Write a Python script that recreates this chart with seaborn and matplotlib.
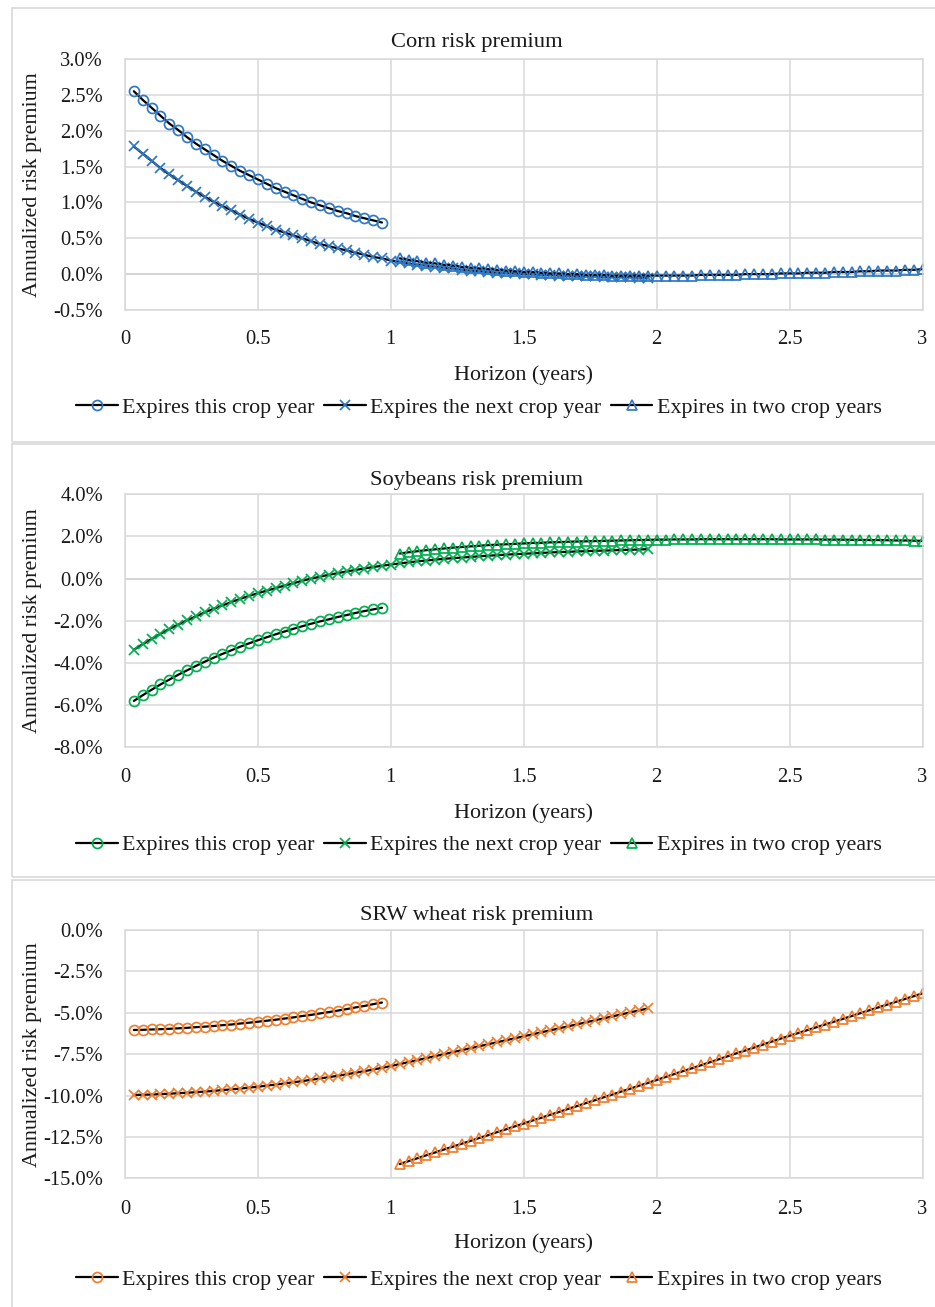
import numpy as np
import pandas as pd
import matplotlib
matplotlib.use("Agg")
import matplotlib.pyplot as plt
import seaborn as sns
from matplotlib.patches import Rectangle

sns.set_theme(style="white")
plt.rcParams['font.family'] = ['Liberation Serif', 'DejaVu Serif']

# ---------------- data ----------------
h_this = np.arange(1, 30) / 30      # horizons (years) of contracts expiring this crop year
h_next = np.arange(1, 60) / 30      # ... next crop year
h_two = np.arange(31, 91) / 30      # ... in two crop years

series_labels = ["Expires this crop year", "Expires the next crop year", "Expires in two crop years"]

corn_this = [2.55, 2.43, 2.32, 2.21, 2.10, 2.01, 1.91, 1.82, 1.74, 1.66, 1.58, 1.51, 1.44, 1.38, 1.32,
             1.26, 1.20, 1.15, 1.10, 1.05, 1.00, 0.96, 0.92, 0.88, 0.85, 0.81, 0.78, 0.75, 0.72]
corn_next = [1.78, 1.68, 1.58, 1.48, 1.39, 1.31, 1.23, 1.15, 1.08, 1.01, 0.95, 0.89, 0.83, 0.77, 0.72,
             0.67, 0.62, 0.58, 0.54, 0.50, 0.46, 0.42, 0.39, 0.36, 0.33, 0.30, 0.27, 0.24, 0.22, 0.19,
             0.17, 0.15, 0.13, 0.12, 0.10, 0.09, 0.08, 0.06, 0.05, 0.04, 0.03, 0.02, 0.02, 0.01, 0.00,
             0.00, -0.01, -0.01, -0.02, -0.02, -0.03, -0.03, -0.03, -0.04, -0.04, -0.04, -0.04, -0.05, -0.05]
corn_two = [0.22, 0.20, 0.18, 0.16, 0.15, 0.13, 0.12, 0.10, 0.09, 0.08, 0.07, 0.06, 0.05, 0.04, 0.03,
            0.03, 0.02, 0.01, 0.01, 0.00, 0.00, -0.01, -0.01, -0.01, -0.02, -0.02, -0.02, -0.02, -0.02, -0.02,
            -0.02, -0.02, -0.02, -0.02, -0.01, -0.01, -0.01, -0.01, -0.01, 0.00, 0.00, 0.00, 0.00, 0.01, 0.01,
            0.01, 0.02, 0.02, 0.02, 0.03, 0.03, 0.03, 0.04, 0.04, 0.05, 0.05, 0.05, 0.06, 0.06, 0.07]

soy_this = [-5.80, -5.53, -5.27, -5.02, -4.79, -4.56, -4.35, -4.14, -3.94, -3.75, -3.57, -3.40, -3.23, -3.07,
            -2.92, -2.78, -2.64, -2.51, -2.38, -2.26, -2.14, -2.03, -1.93, -1.82, -1.73, -1.63, -1.54, -1.46, -1.38]
soy_next = [-3.37, -3.11, -2.86, -2.62, -2.39, -2.18, -1.98, -1.79, -1.60, -1.43, -1.27, -1.11, -0.96, -0.82,
            -0.69, -0.57, -0.45, -0.33, -0.22, -0.10, 0.00, 0.09, 0.18, 0.26, 0.34, 0.41, 0.48, 0.55, 0.61, 0.67,
            0.72, 0.77, 0.82, 0.86, 0.90, 0.94, 0.97, 1.00, 1.03, 1.06, 1.09, 1.11, 1.14, 1.16, 1.18,
            1.20, 1.22, 1.24, 1.26, 1.27, 1.29, 1.30, 1.32, 1.33, 1.34, 1.36, 1.37, 1.38, 1.40]
soy_two = [1.19, 1.25, 1.30, 1.35, 1.39, 1.43, 1.47, 1.50, 1.53, 1.56, 1.59, 1.61, 1.63, 1.65, 1.67,
           1.69, 1.70, 1.72, 1.73, 1.75, 1.76, 1.77, 1.78, 1.79, 1.80, 1.81, 1.82, 1.83, 1.84, 1.85,
           1.85, 1.86, 1.86, 1.86, 1.87, 1.87, 1.87, 1.87, 1.87, 1.87, 1.87, 1.87, 1.87, 1.86, 1.86,
           1.86, 1.86, 1.86, 1.85, 1.85, 1.85, 1.84, 1.84, 1.83, 1.83, 1.82, 1.81, 1.81, 1.80, 1.79]

wheat_this = [-6.04, -6.03, -6.01, -5.99, -5.97, -5.94, -5.91, -5.87, -5.84, -5.80, -5.75, -5.71, -5.65, -5.60,
              -5.54, -5.48, -5.42, -5.35, -5.28, -5.20, -5.13, -5.04, -4.96, -4.87, -4.78, -4.68, -4.59, -4.48, -4.38]
wheat_next = [-9.97, -9.95, -9.94, -9.91, -9.89, -9.86, -9.83, -9.80, -9.76, -9.72, -9.67, -9.63, -9.58, -9.52,
              -9.47, -9.40, -9.34, -9.27, -9.20, -9.13, -9.05, -8.97, -8.89, -8.81, -8.72, -8.62, -8.53, -8.43,
              -8.33, -8.22, -8.10, -7.98, -7.86, -7.74, -7.62, -7.50, -7.38, -7.26, -7.14, -7.02, -6.90, -6.78,
              -6.66, -6.54, -6.42, -6.30, -6.18, -6.06, -5.94, -5.82, -5.70, -5.58, -5.46, -5.34, -5.22, -5.10,
              -4.98, -4.86, -4.74]
wheat_two = [-14.14, -13.96, -13.79, -13.61, -13.44, -13.26, -13.09, -12.91, -12.74, -12.56, -12.39, -12.21,
             -12.04, -11.86, -11.69, -11.51, -11.34, -11.16, -10.99, -10.81, -10.64, -10.46, -10.29, -10.11,
             -9.94, -9.76, -9.59, -9.41, -9.24, -9.06, -8.88, -8.70, -8.52, -8.35, -8.17, -7.99, -7.81, -7.63,
             -7.45, -7.28, -7.10, -6.92, -6.74, -6.56, -6.39, -6.22, -6.05, -5.88, -5.71, -5.54, -5.37, -5.20,
             -5.02, -4.85, -4.68, -4.51, -4.34, -4.17, -4.00, -3.83]

titles = ["Corn risk premium", "Soybeans risk premium", "SRW wheat risk premium"]
corn_yticks = [-0.5, 0.0, 0.5, 1.0, 1.5, 2.0, 2.5, 3.0]
soy_yticks = [-8.0, -6.0, -4.0, -2.0, 0.0, 2.0, 4.0]
wheat_yticks = [-15.0, -12.5, -10.0, -7.5, -5.0, -2.5, 0.0]
xticks = [0, 0.5, 1, 1.5, 2, 2.5, 3]
xtick_labels = ["0", "0.5", "1", "1.5", "2", "2.5", "3"]
ylabel = "Annualized risk premium"
xlabel = "Horizon (years)"

# ---------------- layout ----------------
W, H = 935, 1307
fig = plt.figure(figsize=(W / 100, H / 100), dpi=100)

panels = [
    dict(title=titles[0], data=[corn_this, corn_next, corn_two], yticks=corn_yticks,
         fmt="{:.1f}%", color="#2E78C6", top=59, bottom=310, box=(8, 442),
         title_y=46.5, tick_y=340.7, xlab_y=375, leg_y=408),
    dict(title=titles[1], data=[soy_this, soy_next, soy_two], yticks=soy_yticks,
         fmt="{:.1f}%", color="#00B050", top=494.3, bottom=747.3, box=(444, 877),
         title_y=485, tick_y=778.3, xlab_y=813, leg_y=845),
    dict(title=titles[2], data=[wheat_this, wheat_next, wheat_two], yticks=wheat_yticks,
         fmt="{:.1f}%", color="#F07E2E", top=930, bottom=1178.3, box=(880, 1320),
         title_y=920, tick_y=1210, xlab_y=1243, leg_y=1279.5),
]

ax_left, ax_right = 125, 922.5
panel_cx = 477
markers = ["o", "x", "^"]
marker_sizes = [7.2, 7.6, 7.4]
horizons = [h_this, h_next, h_two]
fs_tick = 14.8
fs = 15.8
grid_c = "#D9D9D9"
txt_c = "#1a1a1a"

for p in panels:
    # chart border
    y0, y1 = p["box"]
    fig.patches.append(Rectangle((11.7 / W, 1 - y1 / H), (W + 20 - 11.7) / W, (y1 - y0) / H,
                                 transform=fig.transFigure, fill=False, edgecolor=grid_c, lw=1.2))
    ax = fig.add_axes([ax_left / W, 1 - p["bottom"] / H, (ax_right - ax_left) / W,
                       (p["bottom"] - p["top"]) / H])
    for hz, vals, mk, ms, lab in zip(horizons, p["data"], markers, marker_sizes, series_labels):
        sns.lineplot(x=hz, y=vals, ax=ax, color="black", linewidth=1.6, marker=mk,
                     markersize=ms, markeredgecolor=p["color"],
                     markerfacecolor="none", markeredgewidth=1.25, label=lab,
                     sort=False, estimator=None)
    yt = p["yticks"]
    ax.set_xlim(0, 3)
    ax.set_ylim(min(yt), max(yt))
    ax.set_xticks(xticks)
    ax.set_xticklabels(xtick_labels)
    ax.set_yticks(yt)
    ax.set_yticklabels([p["fmt"].format(v) for v in yt])
    ax.grid(True, color=grid_c, lw=1.1)
    ax.set_axisbelow(True)
    ax.axhline(0, color="#BFBFBF", lw=1.2, zorder=0.5)
    for s in ax.spines.values():
        s.set_color(grid_c)
        s.set_linewidth(1.1)
    ax.tick_params(length=0, labelsize=fs_tick, colors=txt_c)
    ax.tick_params(axis="y", pad=(ax_left - 103) * 0.72)
    ax.tick_params(axis="x", pad=(p["tick_y"] - p["bottom"] - 10.5) * 0.72)
    ax.set_xlabel("")
    ax.set_ylabel("")
    fig.text(panel_cx / W, 1 - p["title_y"] / H, p["title"], ha="center", va="baseline",
             fontsize=fs + 0.4, color=txt_c)
    fig.text(33 / W, 1 - (p["top"] + p["bottom"]) / 2 / H, ylabel, rotation=90,
             ha="center", va="center", fontsize=fs, color=txt_c)
    fig.text((ax_left + ax_right) / 2 / W, 1 - p["xlab_y"] / H, xlabel, ha="center",
             va="center", fontsize=fs, color=txt_c)
    handles, labels = ax.get_legend_handles_labels()
    ax.legend(handles, labels, loc="center", bbox_to_anchor=(479 / W, 1 - p["leg_y"] / H),
              bbox_transform=fig.transFigure, ncol=3, frameon=False, fontsize=fs,
              handlelength=1.9, handletextpad=0.21, columnspacing=0.42, borderpad=0,
              labelcolor=txt_c)

fig.savefig("out.png", dpi=100, facecolor="white")
